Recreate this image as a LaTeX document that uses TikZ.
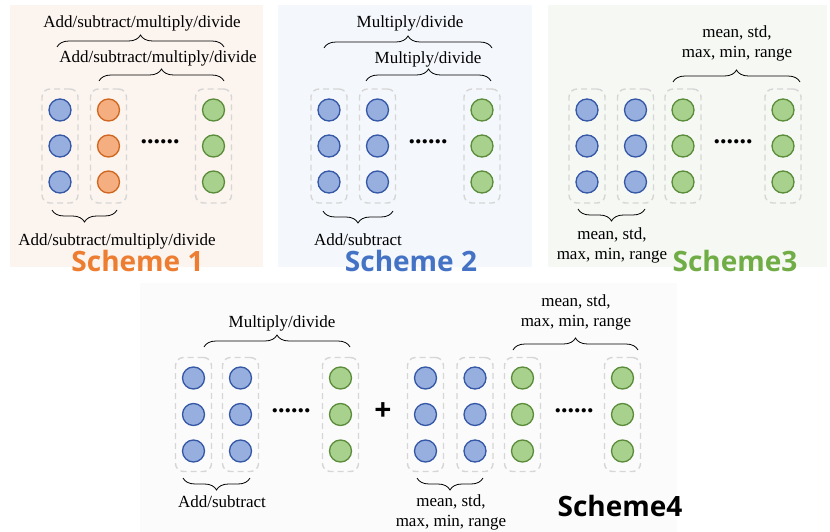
\documentclass[tikz,border=0pt]{standalone}
\usepackage{fontspec}
\setmainfont{Liberation Serif}
\newfontfamily\headfont{Open Sans}
\usetikzlibrary{decorations.pathreplacing}

\definecolor{bfill}{HTML}{97AFDF}
\definecolor{bstroke}{HTML}{3457A6}
\definecolor{ofill}{HTML}{F4AE80}
\definecolor{ostroke}{HTML}{D0661E}
\definecolor{gfill}{HTML}{A9D18E}
\definecolor{gstroke}{HTML}{5A8C3A}
\definecolor{boxgray}{HTML}{D6D6D6}
\definecolor{bgone}{HTML}{FCF4EE}
\definecolor{bgtwo}{HTML}{F4F7FB}
\definecolor{bgthree}{HTML}{F6F8F3}
\definecolor{bgfour}{HTML}{FBFBFB}
\definecolor{titleone}{HTML}{ED7D31}
\definecolor{titletwo}{HTML}{4472C4}
\definecolor{titlethree}{HTML}{70AD47}

% one column of three feature circles inside a dashed box
% #1 name, #2 x, #3 y of top circle, #4 spacing, #5 circle style
\newcommand\featcol[5]{%
  \node[colbox] (#1) at (#2,{#3+#4}) {};
  \node[#5] (#1a) at (#2,#3) {};
  \node[#5] (#1b) at (#2,{#3+#4}) {};
  \node[#5] (#1c) at (#2,{#3+2*#4}) {};
}

\begin{document}
\begin{tikzpicture}[x=1pt,y=-1pt,
  dot/.style={circle,minimum size=22pt,inner sep=0pt,line width=1.3pt},
  bdot/.style={dot,draw=bstroke,fill=bfill},
  odot/.style={dot,draw=ostroke,fill=ofill},
  gdot/.style={dot,draw=gstroke,fill=gfill},
  colbox/.style={draw=boxgray,line width=1.4pt,dash pattern=on 6pt off 4pt,
    rounded corners=8pt,minimum width=36pt,minimum height=114pt,inner sep=0pt},
  brc/.style={decorate,decoration={brace,amplitude=12pt},line width=0.8pt},
  lbl/.style={font=\fontsize{17}{20}\selectfont,align=center,inner sep=0pt},
  ellip/.style={font=\fontsize{26}{26}\selectfont\bfseries,inner sep=0pt},
  title/.style={font=\headfont\fontsize{28}{28}\selectfont\bfseries,inner sep=0pt,anchor=base}
]
\useasboundingbox (0,0) rectangle (830,532);
\fill[white] (0,0) rectangle (830,532);

% background panels
\fill[bgone]   (10,5)   rectangle (263,267);
\fill[bgtwo]   (278,5)  rectangle (532,267);
\fill[bgthree] (548,5)  rectangle (827,267);
\fill[bgfour]  (140,283) rectangle (677,532);

% ---------------- Scheme 1 ----------------
\featcol{sa1}{60}{110}{36}{bdot}
\featcol{sa2}{108.5}{110}{36}{odot}
\featcol{sa3}{213.5}{110}{36}{gdot}
\node[ellip] (sadots) at (160,142) {......};
\coordinate (sa-o1) at (57,47);  \coordinate (sa-o2) at (224,47);
\coordinate (sa-i1) at (99,81);  \coordinate (sa-i2) at (224,81);
\coordinate (sa-b1) at (117,210); \coordinate (sa-b2) at (52,210);
\draw[brc] (sa-o1) -- (sa-o2);
\draw[brc] (sa-i1) -- (sa-i2);
\draw[brc] (sa-b1) -- (sa-b2);
\node[lbl] (satop) at (142,23) {Add/subtract/multiply/divide};
\node[lbl] (samid) at (158,58) {Add/subtract/multiply/divide};
\node[lbl] (sabot) at (117,241) {Add/subtract/multiply/divide};
\node[title,text=titleone] (satitle) at (137.5,271) {Scheme 1};

% ---------------- Scheme 2 ----------------
\featcol{sb1}{329}{110}{36}{bdot}
\featcol{sb2}{377.5}{110}{36}{bdot}
\featcol{sb3}{482}{110}{36}{gdot}
\node[ellip] (sbdots) at (428,142) {......};
\coordinate (sb-o1) at (324,48); \coordinate (sb-o2) at (492,48);
\coordinate (sb-i1) at (366,81); \coordinate (sb-i2) at (491,81);
\coordinate (sb-b1) at (393,211); \coordinate (sb-b2) at (323,211);
\draw[brc] (sb-o1) -- (sb-o2);
\draw[brc] (sb-i1) -- (sb-i2);
\draw[brc] (sb-b1) -- (sb-b2);
\node[lbl] (sbtop) at (410,23) {Multiply/divide};
\node[lbl] (sbmid) at (428,59) {Multiply/divide};
\node[lbl] (sbbot) at (358,240) {Add/subtract};
\node[title,text=titletwo] (sbtitle) at (411,271) {Scheme 2};

% ---------------- Scheme 3 ----------------
\featcol{sc1}{587}{110}{36}{bdot}
\featcol{sc2}{635.5}{110}{36}{bdot}
\featcol{sc3}{683}{110}{36}{gdot}
\featcol{sc4}{783}{110}{36}{gdot}
\node[ellip] (scdots) at (733,142) {......};
\coordinate (sc-t1) at (673,82); \coordinate (sc-t2) at (800,82);
\coordinate (sc-b1) at (645,209); \coordinate (sc-b2) at (578,209);
\draw[brc] (sc-t1) -- (sc-t2);
\draw[brc] (sc-b1) -- (sc-b2);
\node[lbl] (sctop) at (737,43) {mean, std,\\max, min, range};
\node[lbl] (scbot) at (612,245) {mean, std,\\max, min, range};
\node[title,text=titlethree] (sctitle) at (735,271) {Scheme3};

% ---------------- Scheme 4 ----------------
\featcol{sd1}{193.5}{378}{36.5}{bdot}
\featcol{sd2}{240.5}{378}{36.5}{bdot}
\featcol{sd3}{340.5}{378}{36.5}{gdot}
\node[ellip] (sddots) at (291,411) {......};
\node[font=\headfont\fontsize{30}{30}\selectfont\bfseries,inner sep=0pt] (plus) at (383,412) {+};
\featcol{se1}{425.5}{378}{36.5}{bdot}
\featcol{se2}{475}{378}{36.5}{bdot}
\featcol{se3}{522.5}{378}{36.5}{gdot}
\featcol{se4}{622.5}{378}{36.5}{gdot}
\node[ellip] (sedots) at (574,411) {......};
\coordinate (sd-t1) at (204,347); \coordinate (sd-t2) at (350,347);
\coordinate (sd-b1) at (250,478); \coordinate (sd-b2) at (183,478);
\coordinate (se-t1) at (513,350); \coordinate (se-t2) at (638,350);
\coordinate (se-b1) at (483,478); \coordinate (se-b2) at (417,478);
\draw[brc] (sd-t1) -- (sd-t2);
\draw[brc] (sd-b1) -- (sd-b2);
\draw[brc] (se-t1) -- (se-t2);
\draw[brc] (se-b1) -- (se-b2);
\node[lbl] (sdtop) at (282,323) {Multiply/divide};
\node[lbl] (sdbot) at (222,502) {Add/subtract};
\node[lbl] (setop) at (576,312) {mean, std,\\max, min, range};
\node[lbl] (sebot) at (451,512) {mean, std,\\max, min, range};
\node[title,text=black] (sdtitle) at (620,516) {Scheme4};
\end{tikzpicture}
\end{document}
